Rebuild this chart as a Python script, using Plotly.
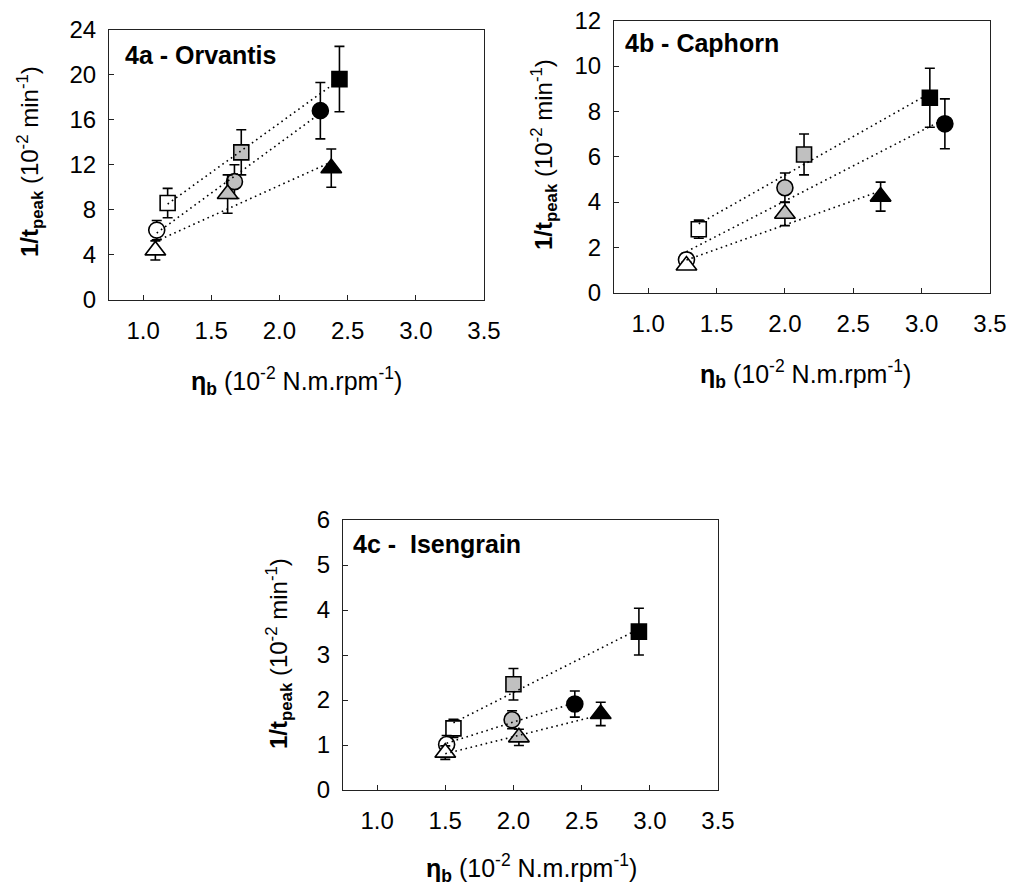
import numpy as np
import plotly.graph_objects as go

# ---------------- data ----------------
panels = ["4a - Orvantis", "4b - Caphorn", "4c - \u00a0Isengrain"]

# Panel 4a
a_sq_x = [1.18, 1.72, 2.44]; a_sq_y = [8.6, 13.1, 19.6]; a_sq_e = [1.3, 2.0, 2.9]
a_ci_x = [1.10, 1.67, 2.30]; a_ci_y = [6.2, 10.5, 16.8]; a_ci_e = [0.85, 1.5, 2.5]
a_tr_x = [1.09, 1.62, 2.38]; a_tr_y = [4.4, 9.4, 11.7]; a_tr_e = [0.85, 1.7, 1.7]

# Panel 4b
b_sq_x = [1.37, 2.14, 3.06]; b_sq_y = [2.8, 6.1, 8.6]; b_sq_e = [0.4, 0.9, 1.3]
b_ci_x = [1.28, 2.00, 3.17]; b_ci_y = [1.45, 4.63, 7.45]; b_ci_e = [0.3, 0.65, 1.1]
b_tr_x = [1.28, 2.00, 2.70]; b_tr_y = [1.2, 3.48, 4.24]; b_tr_e = [0.15, 0.52, 0.64]

# Panel 4c
c_sq_x = [1.56, 2.00, 2.92]; c_sq_y = [1.37, 2.35, 3.52]; c_sq_e = [0.2, 0.35, 0.52]
c_ci_x = [1.51, 1.99, 2.45]; c_ci_y = [1.01, 1.56, 1.91]; c_ci_e = [0.2, 0.2, 0.29]
c_tr_x = [1.50, 2.04, 2.64]; c_tr_y = [0.83, 1.17, 1.69]; c_tr_e = [0.15, 0.18, 0.26]

y_ranges = [[0, 24], [0, 12], [0, 6]]
y_dticks = [4, 2, 1]
x_ticks = [1.0, 1.5, 2.0, 2.5, 3.0, 3.5]

fills = ["white", "#c0c0c0", "black"]

data = [
    [(a_sq_x, a_sq_y, a_sq_e, "square"), (a_ci_x, a_ci_y, a_ci_e, "circle"), (a_tr_x, a_tr_y, a_tr_e, "triangle-up")],
    [(b_sq_x, b_sq_y, b_sq_e, "square"), (b_ci_x, b_ci_y, b_ci_e, "circle"), (b_tr_x, b_tr_y, b_tr_e, "triangle-up")],
    [(c_sq_x, c_sq_y, c_sq_e, "square"), (c_ci_x, c_ci_y, c_ci_e, "circle"), (c_tr_x, c_tr_y, c_tr_e, "triangle-up")],
]

# ---------------- layout geometry (pixels) ----------------
W, H = 1011, 891
frames = [(109, 484, 29.5, 300), (614, 990, 20.7, 292.7), (343, 718, 520, 790)]

def px(x):
    return x / W

def py(y):
    return 1 - y / H

fig = go.Figure()
sizes = {"square": 15, "circle": 16, "triangle-up": 18}

for i, series in enumerate(data):
    sfx = "" if i == 0 else str(i + 1)
    xa, ya = "x" + sfx, "y" + sfx
    for xs, ys, es, sym in series:
        for j in range(3):
            fig.add_trace(go.Scatter(
                x=[xs[j]], y=[ys[j]], mode="markers", xaxis=xa, yaxis=ya,
                marker=dict(symbol=sym, size=sizes[sym], color=fills[j],
                            line=dict(color="black", width=1.6)),
                error_y=dict(type="data", array=[es[j]], color="black",
                             thickness=1.6, width=5),
                showlegend=False, hoverinfo="skip"))
    for xs, ys, es, sym in series:
        k, b0 = np.polyfit(xs, ys, 1)
        lx = [min(xs), max(xs)]
        ly = [k * v + b0 for v in lx]
        fig.add_trace(go.Scatter(
            x=lx, y=ly, mode="lines", xaxis=xa, yaxis=ya,
            line=dict(color="black", width=1.6, dash="1.6px,3.6px"),
            showlegend=False, hoverinfo="skip"))

font_fam = "Liberation Sans, Arial, sans-serif"
axis_common = dict(showline=True, linecolor="#222", linewidth=1, mirror=True,
                   ticks="inside", ticklen=5, tickwidth=1, tickcolor="#222",
                   showgrid=False, zeroline=False, automargin=False,
                   tickfont=dict(family=font_fam, size=24, color="black"))

layout = dict(template="none", width=W, height=H,
              margin=dict(l=0, r=0, t=0, b=0, pad=0, autoexpand=False),
              paper_bgcolor="white", plot_bgcolor="white", showlegend=False,
              font=dict(family=font_fam, color="black"))

annotations = []
ytitle_pos = [(30, 162), (544, 155), (279, 654)]
xtitle_pos = [(296, 381), (805, 374), (531, 868)]
label_pos = [(123, 55), (623, 43), (351, 544)]

for i, (l, r, t, b) in enumerate(frames):
    sfx = "" if i == 0 else str(i + 1)
    xk, yk = "xaxis" + sfx, "yaxis" + sfx
    layout[xk] = dict(axis_common, domain=[px(l), px(r)], range=[0.75, 3.5],
                      tickvals=x_ticks, tickformat=".1f", anchor="y" + sfx,
                      ticklabelstandoff=9)
    layout[yk] = dict(axis_common, domain=[py(b), py(t)], range=y_ranges[i],
                      dtick=y_dticks[i], tick0=0, anchor="x" + sfx,
                      ticklabelstandoff=7)
    annotations.append(dict(
        xref="paper", yref="paper", x=px(label_pos[i][0]), y=py(label_pos[i][1]),
        xanchor="left", yanchor="middle", showarrow=False,
        text="<b>" + panels[i] + "</b>",
        font=dict(family=font_fam, size=25, color="black")))
    annotations.append(dict(
        xref="paper", yref="paper", x=px(ytitle_pos[i][0]), y=py(ytitle_pos[i][1]),
        xanchor="center", yanchor="middle", showarrow=False, textangle=-90,
        text="<b>1/t<sub>peak</sub></b> (10<sup>-2</sup> min<sup>-1</sup>)",
        font=dict(family=font_fam, size=24, color="black")))
    annotations.append(dict(
        xref="paper", yref="paper", x=px(xtitle_pos[i][0]), y=py(xtitle_pos[i][1]),
        xanchor="center", yanchor="middle", showarrow=False,
        text="<b>\u03b7<sub>b</sub></b> (10<sup>-2</sup> N.m.rpm<sup>-1</sup>)",
        font=dict(family=font_fam, size=25, color="black")))

layout["annotations"] = annotations
fig.update_layout(**layout)
fig.write_html("out.html")
